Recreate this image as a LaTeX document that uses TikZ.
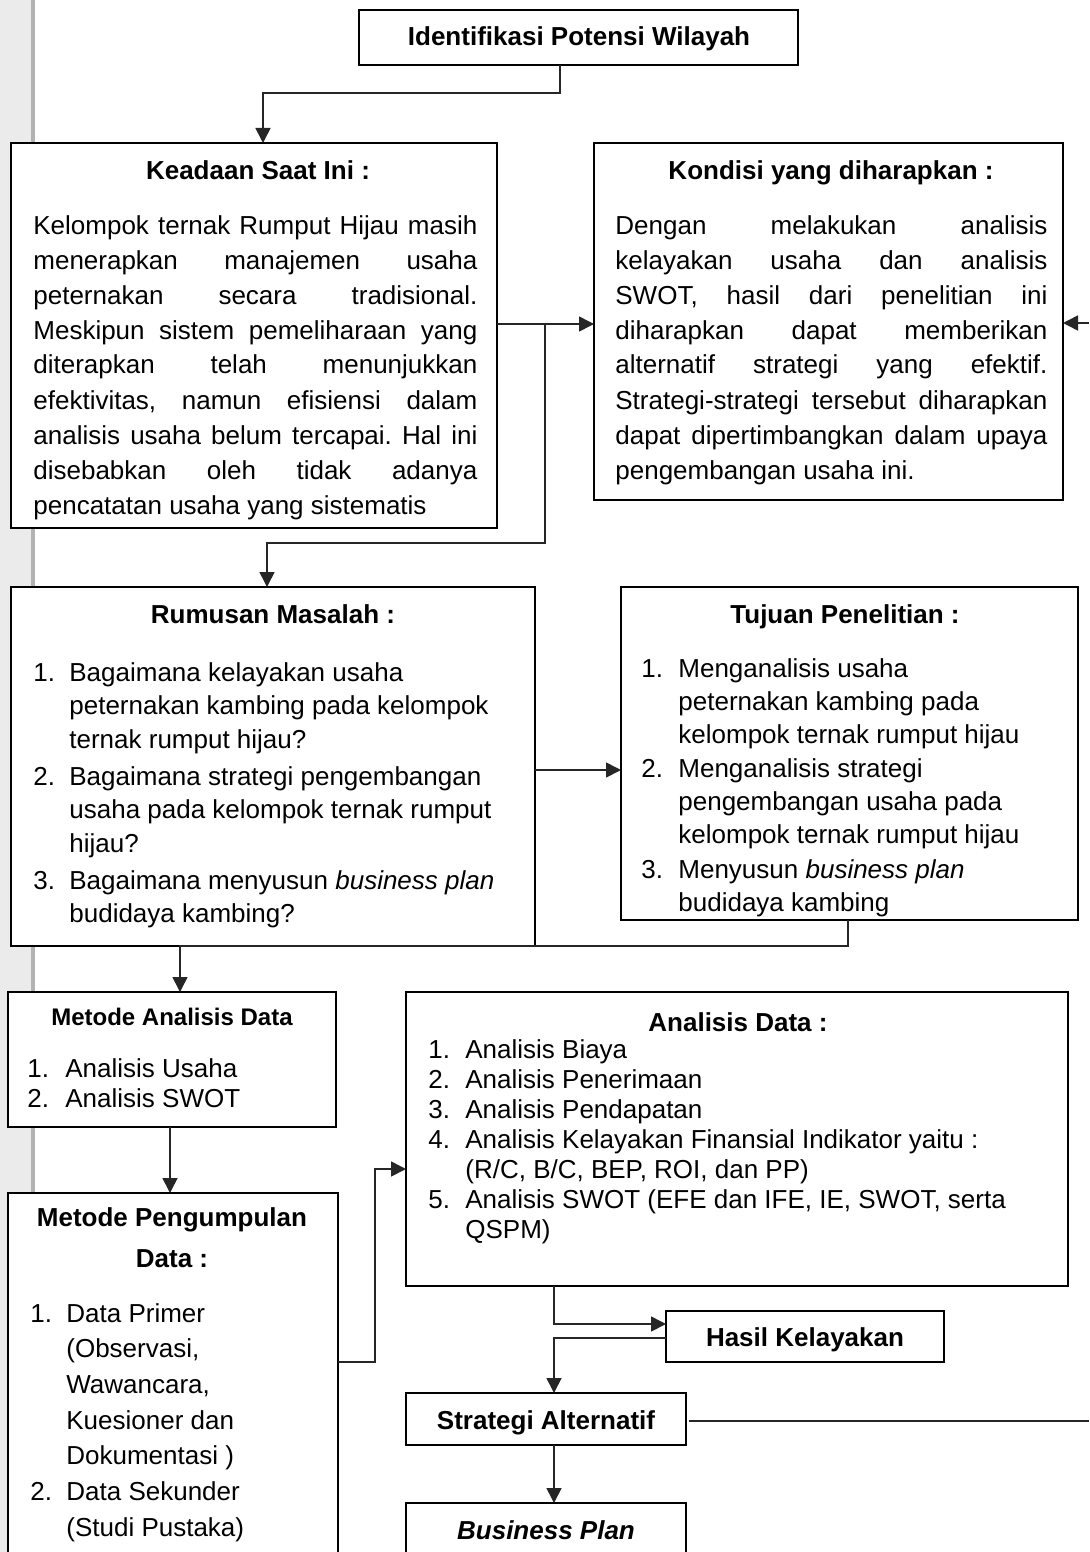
\documentclass[tikz,border=0pt]{standalone}
\usepackage{fontspec}
\setmainfont{Liberation Sans}
\usetikzlibrary{arrows.meta,fit}
\frenchspacing
\newcommand\jl[1]{\makebox[\linewidth][s]{#1}\\}
\newlength\numw
\newcommand\nm[1]{\makebox[\numw][l]{#1}}
\newcommand\ind{\hspace*{\numw}}
\begin{document}
\frenchspacing
\begin{tikzpicture}[x=0.5pt,y=-0.5pt,
  box/.style={draw=black, line width=0.8pt, fill=white, inner sep=0pt, outer sep=0pt},
  conn/.style={line width=0.8pt, draw=black!85},
  arr/.style={conn, -{Triangle[length=7.5pt,width=7.5pt]}},
  txt/.style={anchor=base west, inner sep=0pt},
  hd/.style={anchor=base, inner sep=0pt, font=\bfseries\fontsize{13pt}{15pt}\selectfont}]
\useasboundingbox (0,0) rectangle (1089,1552);
\clip (0,0) rectangle (1089,1552);
% left strip
\fill[black!8] (0,0) rectangle (33,1552);
\draw[black!30, line width=2pt] (33,0) -- (33,1552);

% boxes
\node[box, fit={(359,10) (798,65)}] (idf) {};
\node[box, fit={(11,143) (497,528)}] (kea) {};
\node[box, fit={(594,143) (1063,500)}] (kon) {};
\node[box, fit={(11,587) (535,946)}] (rum) {};
\node[box, fit={(621,587) (1078,920)}] (tuj) {};
\node[box, fit={(8,992) (336,1127)}] (mad) {};
\node[box, fit={(406,992) (1068,1286)}] (ana) {};
\node[box, fit={(8,1193) (338,1575)}] (mpd) {};
\node[box, fit={(666,1311) (944,1362)}] (has) {};
\node[box, fit={(406,1393) (686,1445)}] (str) {};
\node[box, fit={(406,1503) (686,1575)}] (bus) {};

% headings
\node[hd] (idfh) at (579,46) {Identifikasi Potensi Wilayah};
\node[hd] (keah) at (258,179) {Keadaan Saat Ini :};
\node[hd] (konh) at (831,179) {Kondisi yang diharapkan :};
\node[hd] (rumh) at (273,623) {Rumusan Masalah :};
\node[hd] (tujh) at (845,623) {Tujuan Penelitian :};
\node[hd, font=\bfseries\fontsize{12pt}{14pt}\selectfont] (madh) at (172,1025) {Metode Analisis Data};
\node[hd] (anah) at (738,1031) {Analisis Data :};
\node[hd] (mpdh) at (172,1226) {\parbox[t]{160pt}{\centering\bfseries\fontsize{13pt}{20.5pt}\selectfont Metode Pengumpulan\\Data :}};
\node[hd] (hash) at (805,1346) {Hasil Kelayakan};
\node[hd] (strh) at (546,1429) {Strategi Alternatif};
\node[hd] (bush) at (546,1539) {\textit{Business Plan}};

% body texts
\node[txt] (keat) at (33,234) {\parbox[t]{222pt}{\fontsize{13pt}{17.5pt}\selectfont\frenchspacing
\jl{Kelompok ternak Rumput Hijau masih}
\jl{menerapkan manajemen usaha}
\jl{peternakan secara tradisional.}
\jl{Meskipun sistem pemeliharaan yang}
\jl{diterapkan telah menunjukkan}
\jl{efektivitas, namun efisiensi dalam}
\jl{analisis usaha belum tercapai. Hal ini}
\jl{disebabkan oleh tidak adanya}
pencatatan usaha yang sistematis}};

\node[txt] (kont) at (615,234) {\parbox[t]{216pt}{\fontsize{13pt}{17.5pt}\selectfont\frenchspacing
\jl{Dengan melakukan analisis}
\jl{kelayakan usaha dan analisis}
\jl{SWOT, hasil dari penelitian ini}
\jl{diharapkan dapat memberikan}
\jl{alternatif strategi yang efektif.}
\jl{Strategi-strategi tersebut diharapkan}
\jl{dapat dipertimbangkan dalam upaya}
pengembangan usaha ini.}};

\node[txt] (rumt) at (33,681) {\parbox[t]{245pt}{\fontsize{13pt}{16.75pt}\selectfont\setlength\numw{18pt}%
\nm{1.}Bagaimana kelayakan usaha\\
\ind peternakan kambing pada kelompok\\
\ind ternak rumput hijau?\\[1.75pt]
\nm{2.}Bagaimana strategi pengembangan\\
\ind usaha pada kelompok ternak rumput\\
\ind hijau?\\[1.75pt]
\nm{3.}Bagaimana menyusun \textit{business plan}\\
\ind budidaya kambing?}};

\node[txt] (tujt) at (641,677) {\parbox[t]{215pt}{\fontsize{13pt}{16.5pt}\selectfont\setlength\numw{18.5pt}%
\nm{1.}Menganalisis usaha\\
\ind peternakan kambing pada\\
\ind kelompok ternak rumput hijau\\[0.75pt]
\nm{2.}Menganalisis strategi\\
\ind pengembangan usaha pada\\
\ind kelompok ternak rumput hijau\\[0.75pt]
\nm{3.}Menyusun \textit{business plan}\\
\ind budidaya kambing}};

\node[txt] (madt) at (27,1077) {\parbox[t]{150pt}{\fontsize{13pt}{15pt}\selectfont\setlength\numw{19pt}%
\nm{1.}Analisis Usaha\\
\nm{2.}Analisis SWOT}};

\node[txt] (anat) at (428,1058) {\parbox[t]{315pt}{\fontsize{13pt}{15pt}\selectfont\setlength\numw{18.5pt}%
\nm{1.}Analisis Biaya\\
\nm{2.}Analisis Penerimaan\\
\nm{3.}Analisis Pendapatan\\
\nm{4.}Analisis Kelayakan Finansial Indikator yaitu :\\
\ind (R/C, B/C, BEP, ROI, dan PP)\\
\nm{5.}Analisis SWOT (EFE dan IFE, IE, SWOT, serta\\
\ind QSPM)}};

\node[txt] (mpdt) at (30,1322) {\parbox[t]{150pt}{\fontsize{13pt}{17.85pt}\selectfont\setlength\numw{18pt}%
\nm{1.}Data Primer\\
\ind (Observasi,\\
\ind Wawancara,\\
\ind Kuesioner dan\\
\ind Dokumentasi )\\
\nm{2.}Data Sekunder\\
\ind (Studi Pustaka)}};

% helper coordinates
\coordinate (b1) at (560,93);
\coordinate (b2) at (263,93);
\coordinate (j1) at (545,324);
\coordinate (b3) at (545,543);
\coordinate (b4) at (267,543);
\coordinate (e1) at (1089,323);
\coordinate (j2) at (578,770);
\coordinate (b5) at (848,946);
\coordinate (b6) at (180,946);
\coordinate (b7) at (170,1160);
\coordinate (b8) at (375,1362);
\coordinate (b9) at (375,1169);
\coordinate (b10) at (554,1324);
\coordinate (b11) at (554,1338);
\coordinate (e2) at (1089,1421);

% connectors
\draw[arr] (idf.south -| b1) -- (b1) -- (b2) -- (kea.north -| b2);
\draw[arr] (kea.east |- j1) -- (kon.west |- j1);
\draw[arr] (j1) -- (b3) -- (b4) -- (rum.north -| b4);
\draw[arr] (e1) -- (kon.east |- e1);
\draw[arr] (rum.east |- j2) -- (tuj.west |- j2);
\draw[arr] (tuj.south -| b5) -- (b5) -- (b6) -- (mad.north -| b6);
\draw[arr] (mad.south -| b7) -- (mpd.north -| b7);
\draw[arr] (mpd.east |- b8) -- (b8) -- (b9) -- (ana.west |- b9);
\draw[arr] (ana.south -| b10) -- (b10) -- (has.west |- b10);
\draw[arr] (has.west |- b11) -- (b11) -- (str.north -| b11);
\draw[conn] ([xshift=1.5pt]str.east |- e2) -- (e2);
\draw[arr] (str.south -| b11) -- (bus.north -| b11);
\end{tikzpicture}
\end{document}
